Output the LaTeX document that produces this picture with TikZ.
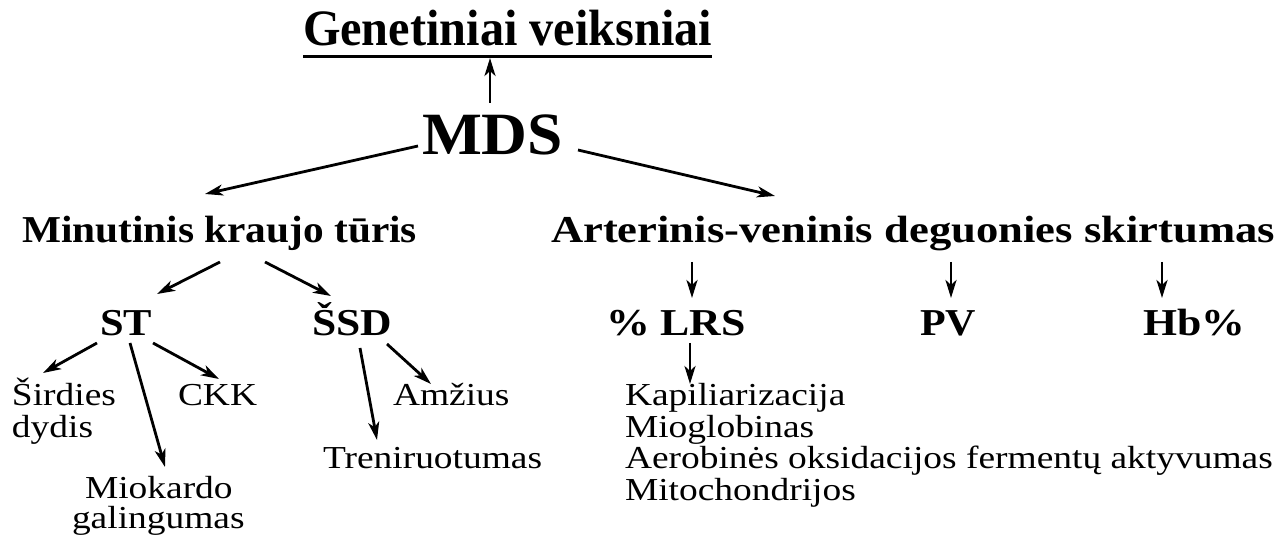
\documentclass[tikz,border=0pt]{standalone}
\usepackage{fontspec}
\usepackage{graphicx}
\setmainfont{Liberation Serif}
\usetikzlibrary{arrows.meta}
\newcommand{\fs}[1]{\fontsize{#1}{#1}\selectfont}
\newcommand{\fitw}[2]{\resizebox{#1pt}{\height}{#2}}
\newcommand{\wx}[1]{\scalebox{1.17}[1]{#1}}
\tikzset{
  x=1pt, y=-1pt,
  lbl/.style={anchor=base west, inner sep=0pt, outer sep=0pt},
  arr/.style={line width=2.8pt, -{Stealth[length=18pt,width=11pt,inset=5pt]}},
  head/.style={lbl, font=\bfseries\fs{38}},
  leaf/.style={lbl, font=\fs{32}},
}
\begin{document}
\begin{tikzpicture}
\useasboundingbox (0,0) rectangle (1286,537);
% title
\node[lbl, font=\bfseries\fs{51}] (gen) at (303,46) {\fitw{409}{Genetiniai veiksniai}};
\draw[line width=3pt] (303,57) -- (712,57);
\coordinate (genb) at (490,58);
\node[lbl, font=\bfseries\fs{60}] (mds) at (422,155) {\fitw{141}{MDS}};
\coordinate (mdst) at (490,103);
\draw[arr] (mdst) -- (genb);
% second row
\node[head] (mkt) at (22,243) {\fitw{395}{Minutinis kraujo tūris}};
\node[head] (avd) at (551,243) {\fitw{724}{Arterinis-veninis deguonies skirtumas}};
\coordinate (mdsl) at (418,146);
\coordinate (mdsr) at (578,150);
\coordinate (mktt) at (205,194);
\coordinate (avdt) at (775,196);
\draw[arr] (mdsl) -- (mktt);
\draw[arr] (mdsr) -- (avdt);
% third row
\node[head] (st) at (100,336) {\fitw{52}{ST}};
\node[head] (ssd) at (312,336) {\fitw{80}{ŠSD}};
\node[head] (lrs) at (606,336) {\fitw{140}{\% LRS}};
\node[head] (pv) at (920,336) {\fitw{56}{PV}};
\node[head] (hb) at (1143,336) {\fitw{102}{Hb\%}};
\draw[arr] (220,262) -- (157,294);
\draw[arr] (265,262) -- (331,296);
\draw[arr] (692,262) -- (692,298);
\draw[arr] (951,262) -- (951,298);
\draw[arr] (1162,262) -- (1162,298);
% leaves
\node[leaf] (sd1) at (12,406) {\wx{Širdies}};
\node[leaf] (sd2) at (12,438) {\wx{dydis}};
\node[leaf] (ckk) at (178,406) {\wx{CKK}};
\node[leaf] (mg1) at (85,498) {\wx{Miokardo}};
\node[leaf] (mg2) at (72,528) {\wx{galingumas}};
\node[leaf] (amz) at (393,406) {\wx{Amžius}};
\node[leaf] (tren) at (323,468) {\wx{Treniruotumas}};
\node[leaf] (l1) at (625,406) {\wx{Kapiliarizacija}};
\node[leaf] (l2) at (625,437) {\wx{Mioglobinas}};
\node[leaf] (l3) at (625,468) {\wx{Aerobinės oksidacijos fermentų aktyvumas}};
\node[leaf] (l4) at (625,500) {\wx{Mitochondrijos}};
\draw[arr] (97,343) -- (43,373);
\draw[arr] (130,343) -- (165,467);
\draw[arr] (153,343) -- (219,379);
\draw[arr] (360,348) -- (377,440);
\draw[arr] (387,344) -- (431,384);
\draw[arr] (690,343) -- (690,384);
\end{tikzpicture}
\end{document}
